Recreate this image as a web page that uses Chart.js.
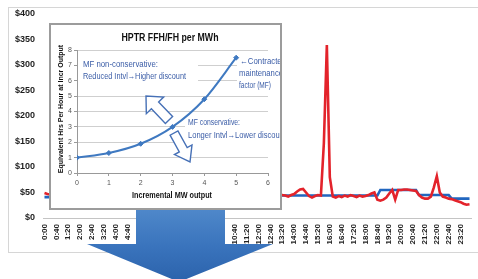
<!DOCTYPE html>
<html><head><meta charset="utf-8">
<script src="https://cdn.jsdelivr.net/npm/chart.js@4"></script>
<style>
html,body{margin:0;padding:0;background:#fff;width:478px;height:279px;overflow:hidden;}
#frame{position:absolute;left:8px;top:7px;width:475px;height:246px;border:1px solid #d6d6d6;box-sizing:border-box;}
#main{position:absolute;left:0;top:0;}
#arrow{position:absolute;left:87px;top:209px;width:186px;height:73px;
 background:linear-gradient(to bottom,#4f88ca 0%,#3a74bd 50%,#2b62ab 100%);
 clip-path:polygon(49px 0,138px 0,138px 35px,186px 35px,92px 73px,0 35px,49px 35px);}
#inset{position:absolute;left:49px;top:23px;width:233px;height:187px;border:2px solid #9c9c9c;box-sizing:border-box;background:#fff;}
#insetc{position:absolute;left:0;top:0;}
</style></head>
<body>
<div id="frame"></div>
<canvas id="main" width="478" height="279"></canvas>
<div id="arrow"></div>
<div id="inset"><canvas id="insetc" width="229" height="183"></canvas></div>
<script>
// ---- main chart data (10-minute intervals, 0:00 .. 23:50) ----
const times = [];
for (let h = 0; h < 24; h++) for (let m = 0; m < 60; m += 10) times.push(h + ':' + (m < 10 ? '0' + m : m));
const tickLabels = ['0:00','0:40','1:20','2:00','2:40','3:20','4:00','4:40','5:20','6:00','6:40','7:20','8:00','8:40','9:20','10:00','10:40','11:20','12:00','12:40','13:20','14:00','14:40','15:20','16:00','16:40','17:20','18:00','18:40','19:20','20:00','20:40','21:20','22:00','22:40','23:20'];
const actualCost = [
 49,47,46,45,44,46,48,47,45,44,43,45,
 46,48,50,47,45,44,42,43,45,47,46,44,
 43,44,46,49,52,50,47,45,44,43,44,46,
 48,47,45,44,46,50,55,52,47,45,44,43,
 42,44,46,45,43,42,44,47,49,46,44,43,
 45,48,51,49,46,44,43,45,47,46,44,43,
 44,46,48,47,45,46,48,47,45,44,42,45,
 47,52,56,57,50,43,40,43,45,44,147,339,
 80,42,40,43,41,44,42,45,43,41,44,42,
 43,45,48,50,36,34,36,40,48,55,36,55,
 55,56,56,55,54,53,45,40,38,38,42,60,
 82,50,42,40,38,37,35,33,31,28,26,27];
const contractCost = [
 41,41,41,41,41,41,41,41,41,41,41,41,
 42,42,42,42,42,42,42,42,42,42,42,42,
 42,42,42,42,42,42,42,42,42,42,42,42,
 43,43,43,43,43,43,43,43,43,43,43,43,
 43,43,43,43,43,43,43,43,43,43,43,43,
 44,44,44,44,44,44,44,44,44,44,44,44,
 44,44,44,44,44,44,44,44,44,44,44,44,
 44,44,44,44,44,44,44,44,44,44,44,44,
 44,44,44,44,44,44,44,44,44,44,44,44,
 44,44,44,44,44,55,55,55,55,55,55,55,
 55,55,55,55,55,55,45,45,45,45,45,45,
 45,45,45,45,45,38,38,38,38,38,38,38];
const yTicksMain = [0,50,100,150,200,250,300,350,400];

// ---- inset chart data ----
const mwOutput = [0,1,2,3,4,5];
const ffhRatio = [1.0,1.3,1.9,3.0,4.8,7.5];

const boldF = (s) => ({family:'Liberation Sans, Arial, sans-serif', size:s, weight:'bold'});

new Chart(document.getElementById('main'), {
  type:'line',
  data:{labels:times, datasets:[
    {label:'Actual', data:actualCost, borderColor:'#e3232b', borderWidth:2.6, pointRadius:0, tension:0, order:0},
    {label:'Contract', data:contractCost, borderColor:'#2166bf', borderWidth:2.6, pointRadius:0, tension:0, order:1}
  ]},
  options:{responsive:false, animation:false,
    layout:{padding:{top:14,right:7,left:0,bottom:0}},
    plugins:{legend:{display:false}, tooltip:{enabled:false}},
    scales:{
      x:{offset:true, grid:{display:false, drawTicks:false}, border:{color:'#c4c4c4'},
         ticks:{autoSkip:false, minRotation:90, maxRotation:90, padding:6, font:boldF(8), color:'#222',
           callback:(v,i)=> (i % 4 === 0 ? tickLabels[i/4] : '')},
         afterFit:s=>{s.height=61; s.paddingLeft=0; s.paddingRight=0;}},
      y:{min:0, max:400, afterBuildTicks:s=>{s.ticks = yTicksMain.map(v=>({value:v}));},
         ticks:{callback:v=>'$'+v, padding:8, font:boldF(9), color:'#1e1e1e'},
         grid:{display:false, drawTicks:false}, border:{display:false},
         afterFit:s=>{s.width=43;}}
    }
  }
});

// ---- inset annotations ----
function hollowArrow(ctx, tx, ty, hx, hy, headLen, headHalf, shaftHalf){
  const dx = hx - tx, dy = hy - ty, L = Math.hypot(dx, dy);
  const ux = dx / L, uy = dy / L, px = -uy, py = ux;
  const bx = hx - ux*headLen, by = hy - uy*headLen;
  ctx.beginPath();
  ctx.moveTo(tx + px*shaftHalf, ty + py*shaftHalf);
  ctx.lineTo(bx + px*shaftHalf, by + py*shaftHalf);
  ctx.lineTo(bx + px*headHalf, by + py*headHalf);
  ctx.lineTo(hx, hy);
  ctx.lineTo(bx - px*headHalf, by - py*headHalf);
  ctx.lineTo(bx - px*shaftHalf, by - py*shaftHalf);
  ctx.lineTo(tx - px*shaftHalf, ty - py*shaftHalf);
  ctx.closePath();
  ctx.fillStyle = '#fff'; ctx.fill();
  ctx.strokeStyle = '#4670b6'; ctx.lineWidth = 1.4; ctx.stroke();
}
const insetDecor = {
  id:'insetDecor',
  beforeDatasetsDraw(chart){
    const ctx = chart.ctx;
    ctx.save();
    ctx.fillStyle = '#fff';
    ctx.fillRect(27, 31, 120, 29);
    ctx.fillRect(186, 30, 43, 37);
    ctx.fillRect(134, 91, 95, 28);
    const blue = '#3b5da7';
    ctx.fillStyle = blue; ctx.textBaseline = 'middle'; ctx.textAlign = 'left';
    ctx.font = '9px "Liberation Sans", Arial, sans-serif';
    ctx.fillText('MF non-conservative:', 32, 40, 75);
    ctx.fillText('Reduced Intvl\u2192Higher discount', 32, 52, 103);
    ctx.fillText('\u2190Contracted', 189, 37, 46);
    ctx.fillText('maintenance', 188, 49, 44);
    ctx.fillText('factor (MF)', 188, 61, 32);
    ctx.fillText('MF conservative:', 137, 98, 52);
    ctx.fillText('Longer Intvl\u2192Lower discount', 137, 111, 98);
    hollowArrow(ctx, 118, 95, 95, 71, 13, 12, 5);
    hollowArrow(ctx, 123, 108, 139, 137, 14, 10, 4.5);
    ctx.restore();
  },
  afterDraw(chart){
    const ctx = chart.ctx;
    ctx.save();
    ctx.fillStyle = '#111'; ctx.textAlign = 'center'; ctx.textBaseline = 'middle';
    ctx.font = 'bold 11px "Liberation Sans", Arial, sans-serif';
    ctx.fillText('HPTR FFH/FH per MWh', 119, 13, 97);
    ctx.font = 'bold 9px "Liberation Sans", Arial, sans-serif';
    ctx.fillText('Incremental MW output', 121, 171, 80);
    ctx.translate(10, 84); ctx.rotate(-Math.PI/2);
    ctx.font = 'bold 7px "Liberation Sans", Arial, sans-serif';
    ctx.fillText('Equivalent Hrs Per Hour at Incr Output', 0, 0, 138);
    ctx.restore();
  }
};

new Chart(document.getElementById('insetc'), {
  type:'line',
  data:{datasets:[{data:mwOutput.map((x,i)=>({x:x, y:ffhRatio[i]})),
    borderColor:'#3f79c1', backgroundColor:'#3f79c1', borderWidth:2, tension:0.4, cubicInterpolationMode:'monotone',
    pointStyle:'rectRot', pointRadius:2.5, pointBorderWidth:1}]},
  options:{responsive:false, animation:false,
    layout:{padding:{top:25,right:12,left:0,bottom:0}},
    plugins:{legend:{display:false}, tooltip:{enabled:false}},
    scales:{
      x:{type:'linear', min:0, max:6, ticks:{stepSize:1, padding:3, font:{family:'Liberation Sans, Arial', size:7}, color:'#555'},
         grid:{drawOnChartArea:false, tickLength:3, color:'#999', tickColor:'#999'}, border:{color:'#999'},
         afterFit:s=>{s.height=35;}},
      y:{min:0, max:8, ticks:{stepSize:1, padding:2, font:{family:'Liberation Sans, Arial', size:7}, color:'#555'},
         grid:{color:'#cfcfcf', tickLength:3, tickColor:'#999'}, border:{color:'#999'},
         afterFit:s=>{s.width=26;}}
    }
  },
  plugins:[insetDecor]
});
</script>
</body></html>
